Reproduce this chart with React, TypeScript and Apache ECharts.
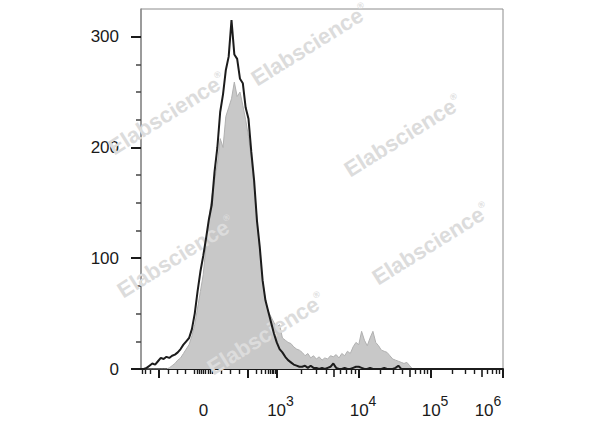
import React, { useEffect, useRef } from "react";
import * as echarts from "echarts";

// Histogram counts per display channel (0..127 across the x axis)
const blackCounts = [
  0, 0, 1, 3, 5, 4, 7, 10, 9, 11,
  10, 12, 13, 15, 18, 22, 25, 28, 36, 50,
  70, 88, 102, 118, 135, 148, 178, 200, 232, 248,
  270, 282, 315, 284, 280, 262, 258, 236, 226, 196,
  170, 134, 110, 80, 62, 52, 42, 32, 24, 18,
  15, 11, 8, 6, 4, 3, 2, 2, 3, 1,
  3, 1, 1, 0, 1, 0, 1, 2, 5, 1,
  0, 0, 1, 0, 0, 1, 2, 2, 1, 0,
  0, 1, 0, 0, 0, 0, 1, 0, 0, 0,
  1, 3, 0, 0, 0, 0, 0, 0, 0, 0,
  0, 0, 0, 0, 0, 0, 0, 0, 0, 0,
  0, 0, 0, 0, 0, 0, 0, 0, 0, 0,
  0, 0, 0, 0, 0, 0, 0, 0,
];

const grayCounts = [
  0, 0, 0, 0, 0, 0, 0, 0, 0, 0,
  1, 3, 5, 8, 10, 14, 18, 22, 30, 40,
  55, 70, 85, 112, 135, 155, 170, 185, 208, 200,
  228, 236, 244, 259, 246, 250, 238, 225, 210, 190,
  165, 136, 105, 80, 62, 52, 47, 42, 38, 40,
  28, 26, 24, 23, 20, 18, 17, 15, 12, 14,
  10, 12, 9, 11, 8, 10, 9, 12, 11, 13,
  10, 14, 12, 16, 14, 20, 24, 22, 34, 26,
  21, 28, 34, 24, 21, 17, 16, 15, 12, 9,
  8, 7, 6, 5, 6, 3, 0,
];

const yTickValues = [0, 100, 200, 300];
const yMinorTickValues = [25, 50, 75, 125, 150, 175, 225, 250, 275];

const xLabelValues = [0, 1e3, 1e4, 1e5, 1e6];
const xLabelTexts = ["0", "10^3", "10^4", "10^5", "10^6"];
const xMajorTickValues = [-100, 100, 1e3, 1e4, 1e5, 1e6];
const xMidTickValues = [5e3, 5e4, 5e5];
const xNearZeroTickValues = [-80, -60, -40, -20, -15, -10, -5, 0, 5, 10, 15, 20, 40, 60, 80];

const watermarkText = "Elabscience";

// Biexponential-like display scale: value -> channel (0..128)
const ZERO_CH = 22.1;
const LINEAR_LIMIT = 100;
const DECADE_KNOTS: [number, number][] = [
  [2, 15.74],
  [3, 25.81],
  [4, 54.99],
  [5, 80.45],
  [6, 105.9],
];
function toChannel(v: number): number {
  const a = Math.abs(v);
  const s = v < 0 ? -1 : 1;
  let off: number;
  if (a <= LINEAR_LIMIT) {
    off = (DECADE_KNOTS[0][1] * a) / LINEAR_LIMIT;
  } else {
    const l = Math.log10(a);
    let k = 0;
    while (k < DECADE_KNOTS.length - 2 && l > DECADE_KNOTS[k + 1][0]) k++;
    const [l0, o0] = DECADE_KNOTS[k];
    const [l1, o1] = DECADE_KNOTS[k + 1];
    off = o0 + ((l - l0) / (l1 - l0)) * (o1 - o0);
  }
  return ZERO_CH + s * off;
}

const CH_MIN = 0;
const CH_MAX = 128;
const inRange = (c: number) => c >= CH_MIN - 1e-6 && c <= CH_MAX + 1e-6;

function minorDecadeValues(): number[] {
  const out: number[] = [];
  for (let k = 2; k <= 5; k++) {
    for (let m = 2; m <= 9; m++) {
      if (k >= 3 && m === 5) continue;
      out.push(m * Math.pow(10, k));
      if (k === 2) out.push(-m * Math.pow(10, k));
    }
  }
  return out;
}

const FONT = "'Liberation Sans', Arial, Helvetica, sans-serif";

export default function App() {
  const ref = useRef<HTMLDivElement>(null);

  useEffect(() => {
    document.body.style.margin = "0";
    if (!ref.current) return;
    const chart = echarts.init(ref.current, null, { renderer: "svg" });

    const labelChannels = xLabelValues.map(toChannel);
    const majorCh = xMajorTickValues.map(toChannel).filter(inRange);
    const midCh = xMidTickValues.map(toChannel).filter(inRange);
    const minorCh = xNearZeroTickValues
      .concat(minorDecadeValues())
      .map(toChannel)
      .filter(inRange);

    const xFormatter = (val: number) => {
      let idx = 0;
      let best = Infinity;
      labelChannels.forEach((c, i) => {
        const d = Math.abs(c - val);
        if (d < best) {
          best = d;
          idx = i;
        }
      });
      const t = xLabelTexts[idx];
      if (t.indexOf("^") < 0) return `{z|${t}}`;
      const [base, exp] = t.split("^");
      if (idx === xLabelTexts.length - 1) return `{b|${base}}{sl|${exp}}`;
      return `{bp|${base}}{s|${exp}}`;
    };

    const baseAxis = {
      type: "value" as const,
      min: CH_MIN,
      max: CH_MAX,
      position: "bottom" as const,
      splitLine: { show: false },
    };

    const wmRich = {
      a: { font: `bold 22px ${FONT}`, fill: "#dcdcdc" },
      r: { font: `bold 9px ${FONT}`, fill: "#dcdcdc", verticalAlign: "top" },
    };
    const wmPositions: [number, number][] = [
      [310, 45],
      [167, 114],
      [403, 136],
      [176, 257],
      [431, 244],
      [266, 334],
    ];

    chart.setOption({
      animation: false,
      backgroundColor: "#ffffff",
      grid: {
        left: 141,
        right: 97,
        top: 9,
        bottom: 58,
        show: true,
        borderColor: "#8c8c8c",
        borderWidth: 1,
        backgroundColor: "transparent",
        outerBoundsMode: "none",
      },
      xAxis: [
        {
          ...baseAxis,
          axisLine: { show: true, lineStyle: { color: "#1a1a1a", width: 2 } },
          axisTick: {
            show: true,
            customValues: majorCh,
            length: 9,
            lineStyle: { color: "#1a1a1a", width: 2 },
          },
          axisLabel: {
            show: true,
            customValues: labelChannels,
            margin: 25,
            formatter: xFormatter,
            color: "#1a1a1a",
            fontFamily: FONT,
            rich: {
              z: { fontSize: 17, fontFamily: FONT, color: "#1a1a1a", padding: [8, 0, 0, 0] },
              b: { fontSize: 17, fontFamily: FONT, color: "#1a1a1a", padding: [8, 0, 0, 0] },
              bp: { fontSize: 17, fontFamily: FONT, color: "#1a1a1a", padding: [8, 0, 0, 8] },
              s: { fontSize: 14, fontFamily: FONT, color: "#1a1a1a", verticalAlign: "top" },
              sl: { fontSize: 14, fontFamily: FONT, color: "#1a1a1a", verticalAlign: "top", padding: [0, 30, 0, 0] },
            },
          },
        },
        {
          ...baseAxis,
          axisLine: { show: false },
          axisTick: {
            show: true,
            customValues: midCh,
            length: 8,
            lineStyle: { color: "#1a1a1a", width: 1.6 },
          },
          axisLabel: { show: false },
        },
        {
          ...baseAxis,
          axisLine: { show: false },
          axisTick: {
            show: true,
            customValues: minorCh,
            length: 5,
            lineStyle: { color: "#1a1a1a", width: 1.4 },
          },
          axisLabel: { show: false },
        },
      ],
      yAxis: [
        {
          type: "value",
          min: 0,
          max: 325,
          position: "left",
          splitLine: { show: false },
          axisLine: { show: true, lineStyle: { color: "#8c8c8c", width: 1.5 } },
          axisTick: {
            show: true,
            customValues: yTickValues,
            length: 10,
            lineStyle: { color: "#1a1a1a", width: 2 },
          },
          axisLabel: {
            show: true,
            customValues: yTickValues,
            margin: 22,
            fontSize: 17,
            fontFamily: FONT,
            color: "#1a1a1a",
          },
        },
        {
          type: "value",
          min: 0,
          max: 325,
          position: "left",
          splitLine: { show: false },
          axisLine: { show: false },
          axisTick: {
            show: true,
            customValues: yMinorTickValues,
            length: 5,
            lineStyle: { color: "#444444", width: 1.5 },
          },
          axisLabel: { show: false },
        },
      ],
      graphic: {
        elements: wmPositions.map(([x, y]) => ({
          type: "text",
          x,
          y,
          rotation: (32 * Math.PI) / 180,
          z: 3,
          silent: true,
          style: {
            text: `{a|${watermarkText}}{r|®}`,
            rich: wmRich,
            align: "center",
            verticalAlign: "middle",
            font: `bold 22px ${FONT}`,
            fill: "#dcdcdc",
          },
        })),
      },
      series: [
        {
          name: "control",
          type: "line",
          xAxisIndex: 0,
          yAxisIndex: 0,
          data: grayCounts.map((c, i) => [i, c]),
          symbol: "none",
          z: 1,
          lineStyle: { color: "#b0b0b0", width: 1 },
          areaStyle: { color: "#c8c8c8", opacity: 1 },
        },
        {
          name: "sample",
          type: "line",
          xAxisIndex: 0,
          yAxisIndex: 0,
          data: blackCounts.map((c, i) => [i, c]),
          symbol: "none",
          z: 5,
          lineStyle: { color: "#1c1c1c", width: 2 },
        },
      ],
    });

    return () => {
      chart.dispose();
    };
  }, []);

  return <div ref={ref} style={{ width: 600, height: 427 }} />;
}
